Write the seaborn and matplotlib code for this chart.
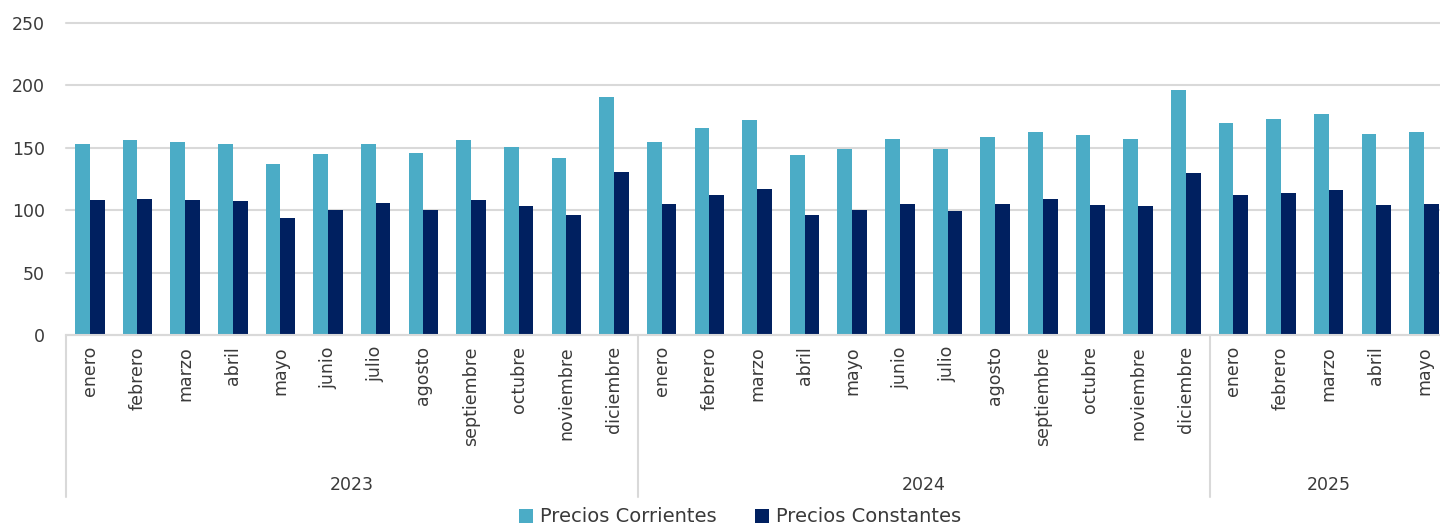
import numpy as np
import pandas as pd
import seaborn as sns
import matplotlib.pyplot as plt
from matplotlib import transforms

# values
meses = ['enero', 'febrero', 'marzo', 'abril', 'mayo', 'junio', 'julio',
         'agosto', 'septiembre', 'octubre', 'noviembre', 'diciembre']
anios = ['2023'] * 12 + ['2024'] * 12 + ['2025'] * 5
etiquetas = meses + meses + meses[:5]

corrientes = [153, 156, 155, 153, 137, 145, 153, 146, 156, 151, 142, 191,
              155, 166, 172, 144, 149, 157, 149, 159, 163, 160, 157, 196,
              170, 173, 177, 161, 163]
constantes = [108, 109, 108, 107, 94, 100, 106, 100, 108, 103, 96, 131,
              105, 112, 117, 96, 100, 105, 99, 105, 109, 104, 103, 130,
              112, 114, 116, 104, 105]

series = ['Precios Corrientes', 'Precios Constantes']
colores = ['#4BACC6', '#002060']

periodos = [f'{m} {a}' for m, a in zip(etiquetas, anios)]
df = pd.DataFrame({
    'periodo': periodos * 2,
    'valor': corrientes + constantes,
    'serie': [series[0]] * len(periodos) + [series[1]] * len(periodos),
})

sns.set_style('white')
plt.rcParams['font.family'] = ['DejaVu Sans']
texto = '#3a3a3a'
gris = '#D9D9D9'

W, H = 1440, 528
fig = plt.figure(figsize=(W / 100, H / 100), dpi=100)
left, bottom_px, top_px = 66, 335, 23
ax = fig.add_axes([left / W, 1 - bottom_px / H, (W - left) / W, (bottom_px - top_px) / H])

sns.barplot(data=df, x='periodo', y='valor', hue='serie', order=periodos,
            hue_order=series, palette=colores, saturation=1, width=0.62,
            linewidth=0, ax=ax)

cat_w = 47.65
ax.set_xlim(-0.5, -0.5 + (W - left) / cat_w)
ax.set_ylim(0, 250)
ax.set_yticks(range(0, 251, 50))
ax.yaxis.grid(True, color=gris, linewidth=1.5)
for gl in ax.get_ygridlines():
    gl.set_clip_on(False)
ax.set_axisbelow(True)
for s in ['top', 'right', 'left']:
    ax.spines[s].set_visible(False)
ax.spines['bottom'].set_color(gris)
ax.spines['bottom'].set_linewidth(1.5)
ax.tick_params(axis='both', length=0, colors=texto, labelsize=12.5)
ax.tick_params(axis='y', pad=15)
ax.tick_params(axis='x', pad=8)
ax.set_xticks(range(len(periodos)))
ax.set_xticklabels(etiquetas, rotation=90)
ax.set_xlabel('')
ax.set_ylabel('')

# year grouping: separators and labels below the month labels
trans = transforms.blended_transform_factory(ax.transData, ax.transAxes)
sep_bottom = -(497 - bottom_px) / (bottom_px - top_px)
for xs in [-0.5, 11.5, 23.5]:
    ax.plot([xs, xs], [0, sep_bottom], transform=trans, color=gris,
            linewidth=1.5, clip_on=False)
year_y = -(485 - bottom_px) / (bottom_px - top_px)
for anio, xc in [('2023', 5.5), ('2024', 17.5), ('2025', 26)]:
    ax.text(xc, year_y, anio, transform=trans, ha='center', va='center',
            fontsize=12.5, color=texto)

leg_y = -(517 - bottom_px) / (bottom_px - top_px)
sns.move_legend(ax, 'center', bbox_to_anchor=((740 - left) / (W - left), leg_y),
                ncol=2, frameon=False, title=None, fontsize=14,
                handlelength=0.7, handleheight=0.7, handletextpad=0.35,
                columnspacing=2.0)
for t in ax.get_legend().get_texts():
    t.set_color(texto)

fig.savefig('out.png', dpi=100)
